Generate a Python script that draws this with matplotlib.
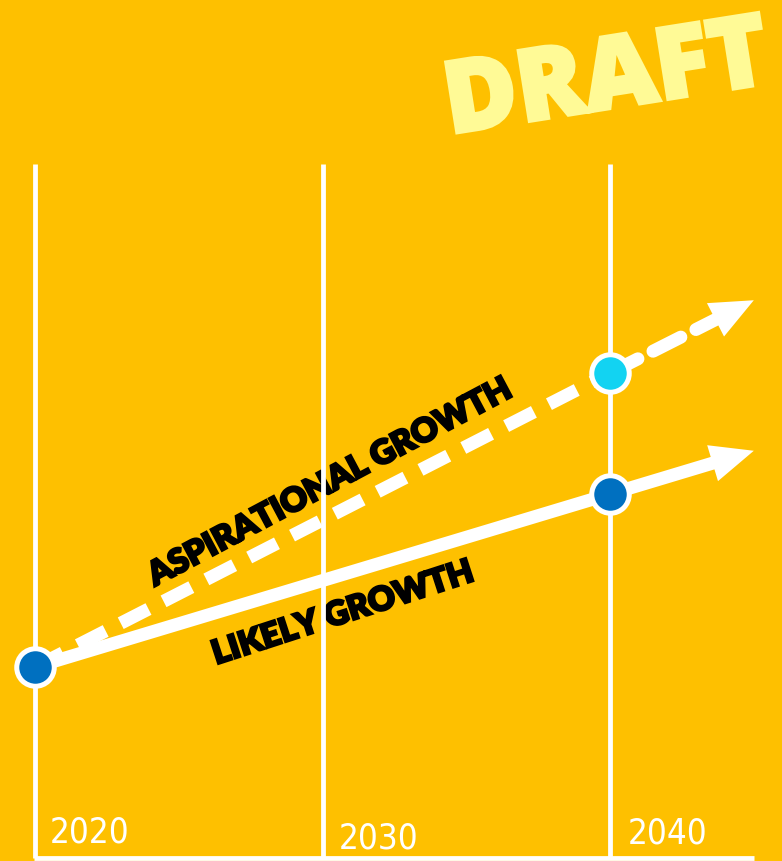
import matplotlib
matplotlib.use("Agg")
import matplotlib.pyplot as plt
import matplotlib.patheffects as pe
from matplotlib import font_manager as fm

# ---- data ----
years = [2020, 2030, 2040]
year_labels = ["2020", "2030", "2040"]
arrow_year = 2045
likely = [100, 200, 225]          # at 2020, 2040, 2045
aspirational = [100, 270, 312]    # at 2020, 2040, 2045
pt_years = [2020, 2040, 2045]

BG = "#FEC000"
WHITE = "white"
BLUE = "#0070C0"
CYAN = "#12D3F2"
DRAFT_C = "#FFFA96"

# pick an upright condensed font for year labels if available
cond_font = None
cands = []
for f in fm.fontManager.ttflist:
    if f.style != "normal":
        continue
    if "italic" in f.fname.lower() or "oblique" in f.fname.lower():
        continue
    isc = ("Narrow" in f.name or "Condensed" in f.name or "Condensed" in f.fname
           or f.stretch in ("condensed", "semi-condensed"))
    if isc:
        w = f.weight if isinstance(f.weight, int) else 400
        cands.append((abs(w - 450), f.fname))
if cands:
    cands.sort()
    cond_font = cands[0][1]

fig = plt.figure(figsize=(7.82, 8.62), dpi=100, facecolor=BG)
ax = fig.add_axes([0, 0, 1, 1])
ax.set_facecolor(BG)
ax.set_xlim(2018.78, 2045.98)
ax.set_ylim(-12.1, 486.1)
ax.axis("off")

lw_line = 13 * 72 / 100
lw_grid = 4.8 * 72 / 100

# vertical gridlines + baseline
for yr in years:
    ax.plot([yr, yr], [-10.4, 390.8], color=WHITE, lw=lw_grid, zorder=4, solid_capstyle="butt")
ax.plot([years[0] - 0.05, arrow_year], [-10.4, -10.4], color=WHITE, lw=lw_grid, zorder=4, solid_capstyle="butt")

# likely growth: solid line + arrow
ax.plot(pt_years[:2], likely[:2], color=WHITE, lw=lw_line, zorder=2, solid_capstyle="butt")
ax.annotate("", xy=(pt_years[2], likely[2]), xytext=(pt_years[1], likely[1]),
            arrowprops=dict(arrowstyle="simple,head_length=31,head_width=27,tail_width=%f" % lw_line,
                            color=WHITE, lw=0, shrinkA=0, shrinkB=0, mutation_scale=1),
            zorder=2)

# aspirational growth: dashed line + arrow
dash_ls = (0, (2.4, 1.3))
ax.plot(pt_years[:2], aspirational[:2], color=WHITE, lw=lw_line, zorder=2,
        linestyle=dash_ls, dash_capstyle="butt")
ax.annotate("", xy=(pt_years[2], aspirational[2]), xytext=(pt_years[1], aspirational[1]),
            arrowprops=dict(arrowstyle="-", color=WHITE, lw=lw_line, linestyle=dash_ls,
                            shrinkA=0, shrinkB=28), zorder=2)
ax.annotate("", xy=(pt_years[2], aspirational[2]), xytext=(pt_years[2] - 1.2, aspirational[2] - 10.2),
            arrowprops=dict(arrowstyle="simple,head_length=31,head_width=27,tail_width=0.1",
                            color=WHITE, lw=0, shrinkA=0, shrinkB=0, mutation_scale=1),
            zorder=2)

# markers
ms = 27
mew = 3.6
ax.plot([pt_years[0]], [likely[0]], "o", ms=ms, mfc=BLUE, mec=WHITE, mew=mew, zorder=6)
ax.plot([pt_years[1]], [likely[1]], "o", ms=ms, mfc=BLUE, mec=WHITE, mew=mew, zorder=6)
ax.plot([pt_years[1]], [aspirational[1]], "o", ms=ms, mfc=CYAN, mec=WHITE, mew=mew, zorder=6)

bold_fx = [pe.withStroke(linewidth=1.6, foreground="black", joinstyle="miter")]

# line labels
ax.text(2030.26, 206.9, "ASPIRATIONAL GROWTH", rotation=28, rotation_mode="anchor",
        ha="center", va="center", fontsize=24, fontweight="heavy", family="Lato",
        color="black", zorder=3, path_effects=bold_fx)
ax.text(2030.71, 131.3, "LIKELY GROWTH", rotation=18, rotation_mode="anchor",
        ha="center", va="center", fontsize=24, fontweight="heavy", family="Lato",
        color="black", zorder=3, path_effects=bold_fx)

# year labels
year_dx = [0.52, 0.56, 0.6]
year_y = [5.2, 1.7, 4.6]
for yr, lab, dx, yy in zip(years, year_labels, year_dx, year_y):
    kw = dict(ha="left", va="center", color=WHITE, fontsize=25, zorder=4)
    if cond_font:
        kw["fontproperties"] = fm.FontProperties(fname=cond_font, size=25)
    ax.text(yr + dx, yy, lab, **kw)

# DRAFT watermark
ax.text(0.776, 0.903, "DRAFT", transform=ax.transAxes, rotation=9, rotation_mode="anchor",
        ha="center", va="center", fontsize=72, fontweight="heavy", family="Open Sans",
        color=DRAFT_C, zorder=1,
        path_effects=[pe.withStroke(linewidth=2.5, foreground=DRAFT_C, joinstyle="miter")])

fig.savefig("out.png", dpi=100, facecolor=BG)
